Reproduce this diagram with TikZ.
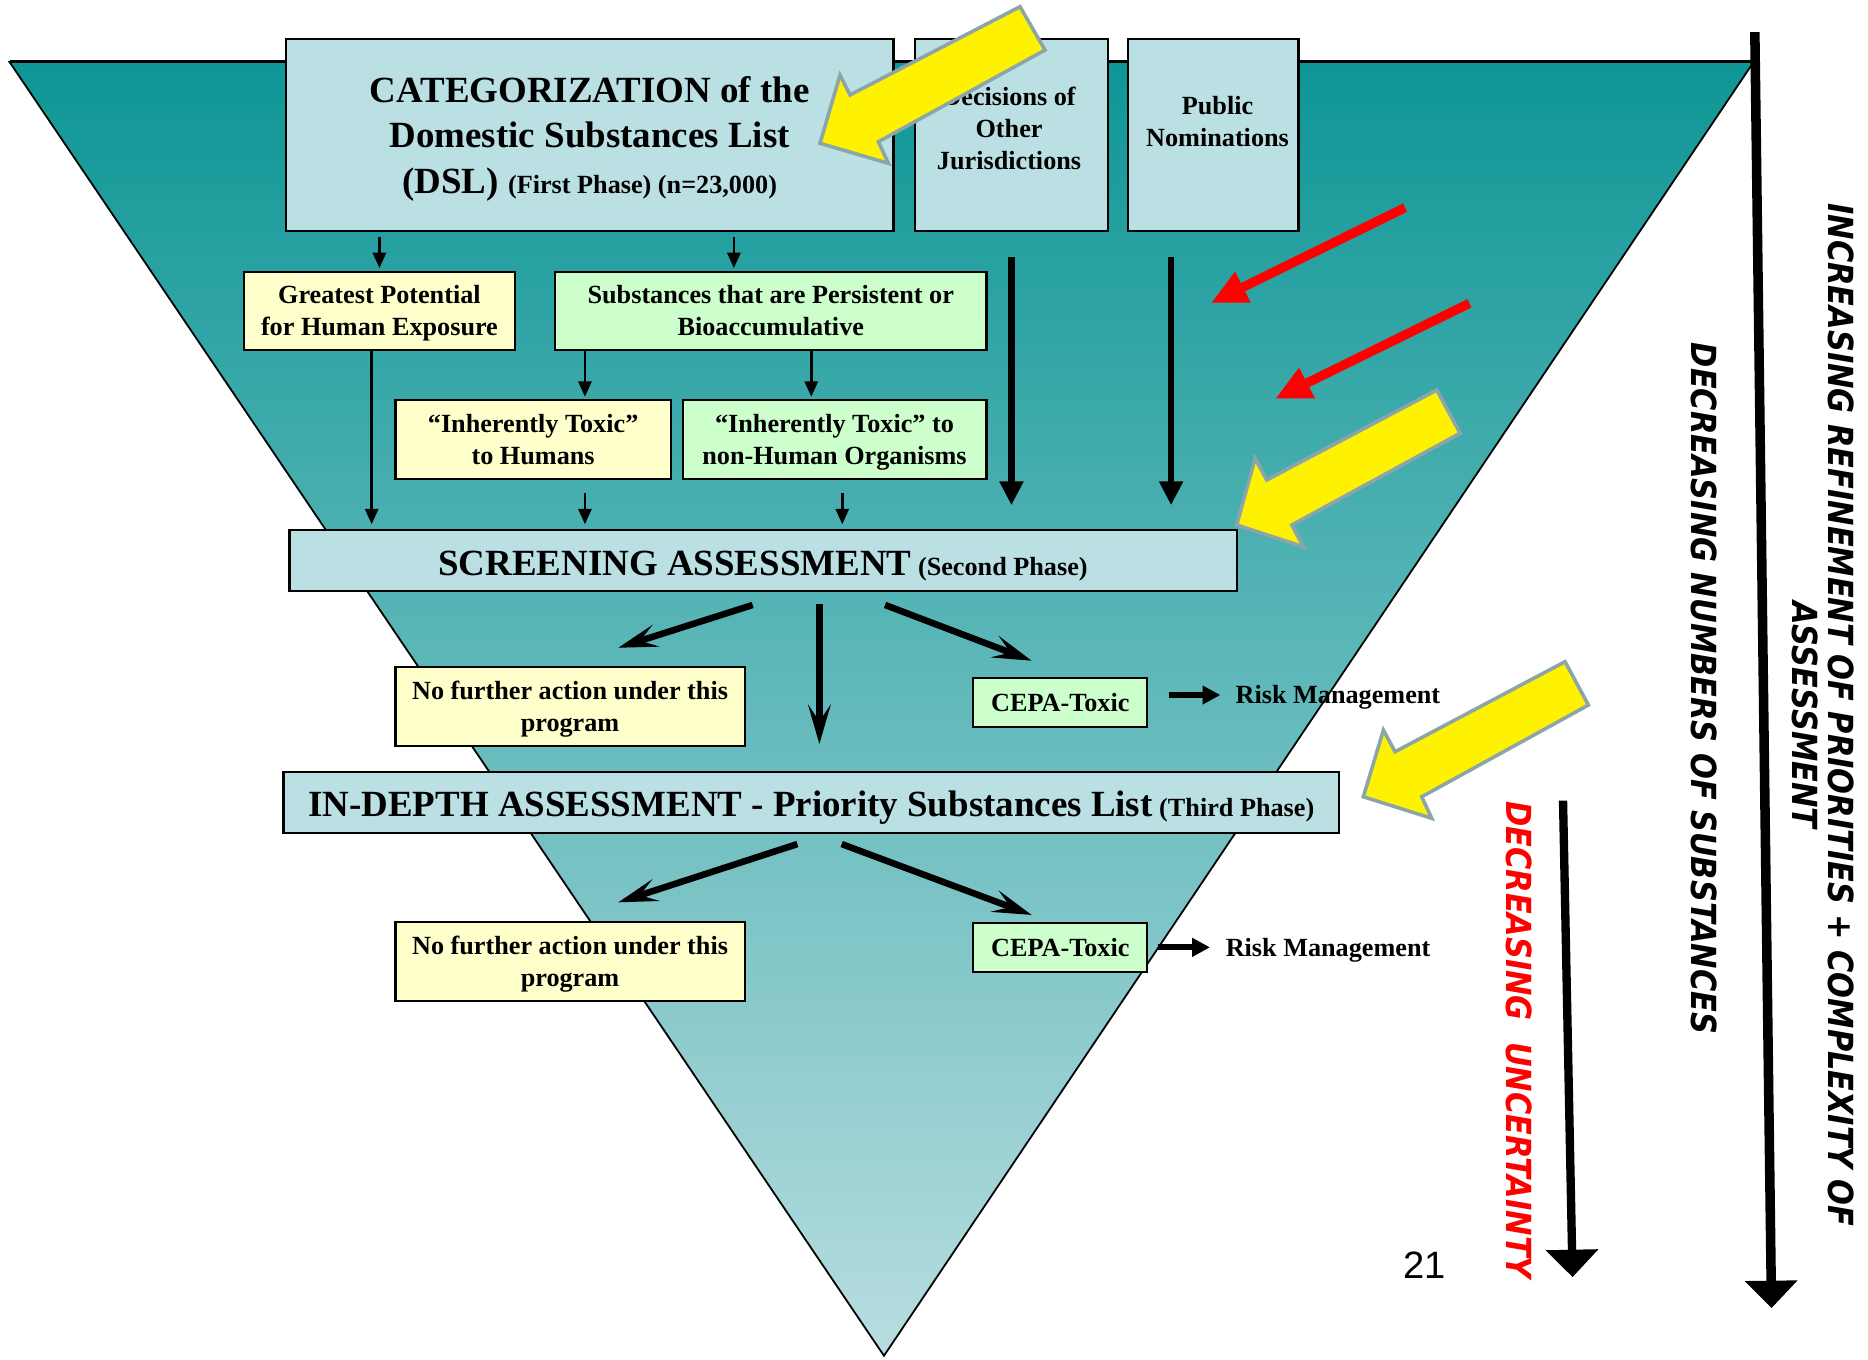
\documentclass[tikz,border=0pt]{standalone}
\usepackage{fontspec}
\setmainfont{Liberation Serif}
\newfontfamily\sidefont{DejaVu Sans}
\newfontfamily\pagefont{Liberation Sans}
\usetikzlibrary{arrows.meta}

\definecolor{tealtop}{RGB}{14,150,150}
\definecolor{tealbot}{RGB}{184,221,224}
\definecolor{boxblue}{RGB}{186,224,228}
\definecolor{boxyellow}{RGB}{255,255,204}
\definecolor{boxgreen}{RGB}{204,255,204}
\definecolor{arrowedge}{RGB}{140,165,168}

\newcommand\boxfont{\fontsize{22}{27}\selectfont\bfseries}
\newcommand\bigboxfont{\fontsize{31}{38}\selectfont\bfseries}
\newcommand\sidetextfont{\sidefont\fontsize{29}{30}\selectfont\bfseries\itshape}
% invisible struts that lower the text block inside its box
\newcommand\smalldrop{\rule{0pt}{19.5pt}}
\newcommand\bigdrop{\rule{0pt}{28pt}}
\newcommand\barsdrop{\rule{0pt}{30pt}}

\begin{document}
\begin{tikzpicture}[x=1pt,y=-1pt,
  box/.style={draw=black, line width=1.8pt, inner sep=0pt, align=center, font=\boxfont},
  bluebox/.style={box, fill=boxblue},
  yelbox/.style={box, fill=boxyellow},
  grnbox/.style={box, fill=boxgreen},
  thinarrow/.style={line width=2.2pt, -{Triangle[length=13pt,width=11pt]}},
  stemarrow/.style={line width=5.5pt, -{Triangle[length=20pt,width=19pt]}},
  flowarrow/.style={line width=5.5pt, -{Stealth[length=33pt,width=19pt,inset=14pt]}},
  riskarrow/.style={line width=5pt, -{Triangle[length=15pt,width=15pt]}},
  sidearrow/.style={-{Triangle[length=23pt,width=43pt]}},
  blockarrow/.style={fill=yellow, draw=arrowedge, line width=3pt, line join=miter},
  sidetext/.style={font=\sidetextfont, align=center, inner sep=0pt, rotate=-90, xscale=0.88},
  plaintext/.style={font=\boxfont, inner sep=0pt, align=center},
]
\useasboundingbox (0,0) rectangle (1568,1141);

% funnel
\shadedraw[top color=tealtop, bottom color=tealbot, draw=black, line width=1.5pt]
  (8,52) -- (1472,52) -- (742,1138) -- cycle;
\draw[line width=2.5pt] (8,52) -- (1472,52);

% side arrows
\coordinate (bigTop) at (1473,27);
\coordinate (bigTip) at (1487,1098);
\draw[sidearrow, line width=8pt] (bigTop) -- (bigTip);
\coordinate (smallTop) at (1312,672);
\coordinate (smallTip) at (1320,1072);
\draw[sidearrow, line width=7pt] (smallTop) -- (smallTip);

% first phase
\node[bluebox, font=\bigboxfont, minimum width=510pt, minimum height=161pt] (cat) at (495,113.5)
  {\bigdrop CATEGORIZATION of the\\Domestic Substances List\\(DSL) {\boxfont (First Phase) (n=23,000)}};
\node[bluebox, minimum width=162pt, minimum height=161pt] (dec) at (849,113.5) {};
\node[plaintext] (dectext) at (847,108) {Decisions of\\Other\\Jurisdictions};
\node[bluebox, minimum width=143pt, minimum height=161pt] (pub) at (1018.5,113.5) {};
\node[plaintext] (pubtext) at (1022,102) {Public\\Nominations};

\node[yelbox, minimum width=227pt, minimum height=66pt] (great) at (318.5,261)
  {\smalldrop Greatest Potential\\for Human Exposure};
\node[grnbox, minimum width=362pt, minimum height=66pt] (pers) at (647,261)
  {Substances that are Persistent or\\Bioaccumulative};
\node[yelbox, minimum width=231pt, minimum height=66pt] (ith) at (447.5,369)
  {``Inherently Toxic''\\to Humans};
\node[grnbox, minimum width=255pt, minimum height=66pt] (itn) at (700.5,369)
  {\smalldrop ``Inherently Toxic'' to\\non-Human Organisms};

% second phase
\node[bluebox, minimum width=795pt, minimum height=51pt] (scr) at (640.5,470.5)
  {\barsdrop{\bigboxfont SCREENING ASSESSMENT} (Second Phase)};
\node[yelbox, minimum width=293pt, minimum height=66pt] (nfa1) at (478.5,593)
  {\smalldrop No further action under this\\program};
\node[grnbox, minimum width=146pt, minimum height=41pt] (cepa1) at (890,589.5) {CEPA-Toxic};
\node[plaintext, anchor=west] (risk1) at (1037,585) {Risk Management};

% third phase
\node[bluebox, minimum width=886pt, minimum height=51pt] (ind) at (681,673.5)
  {\barsdrop{\bigboxfont IN-DEPTH ASSESSMENT - Priority Substances List} (Third Phase)};
\node[yelbox, minimum width=293pt, minimum height=66pt] (nfa2) at (478.5,807)
  {\smalldrop No further action under this\\program};
\node[grnbox, minimum width=146pt, minimum height=41pt] (cepa2) at (890,795.5) {CEPA-Toxic};
\node[plaintext, anchor=west] (risk2) at (1028.7,797.5) {Risk Management};

% categorization links
\draw[thinarrow, shorten <=4pt, shorten >=2pt] (great.north |- cat.south) -- (great.north);
\draw[thinarrow, shorten <=4pt, shorten >=2pt] ([xshift=-31pt]pers.north |- cat.south) -- ([xshift=-31pt]pers.north);
\draw[thinarrow, shorten >=4pt] ([xshift=-6.5pt]great.south) -- ([xshift=-6.5pt]great.south |- scr.north);
\draw[thinarrow, shorten >=2pt] ([xshift=43.5pt]ith.north |- pers.south) -- ([xshift=43.5pt]ith.north);
\draw[thinarrow, shorten >=2pt] ([xshift=-19.5pt]itn.north |- pers.south) -- ([xshift=-19.5pt]itn.north);
\draw[thinarrow, shorten <=11pt, shorten >=4pt] ([xshift=43.5pt]ith.south) -- ([xshift=43.5pt]ith.south |- scr.north);
\draw[thinarrow, shorten <=11pt, shorten >=4pt] ([xshift=6.5pt]itn.south) -- ([xshift=6.5pt]itn.south |- scr.north);
\draw[stemarrow, shorten <=21pt, shorten >=20pt] (dec.south) -- (dec.south |- scr.north);
\draw[stemarrow, shorten <=21pt, shorten >=20pt] ([xshift=-35.5pt]pub.south) -- ([xshift=-35.5pt]pub.south |- scr.north);

% screening outcomes
\coordinate (sL) at (631.8,507.8);  \coordinate (sLend) at (519,543.7);
\coordinate (sD) at (687.8,507);    \coordinate (sDend) at (687.8,624.5);
\coordinate (sR) at (742.9,507.8);  \coordinate (sRend) at (866,554.6);
\draw[flowarrow] (sL) -- (sLend);
\draw[flowarrow] (sD) -- (sDend);
\draw[flowarrow] (sR) -- (sRend);
\coordinate (r1) at (981,583.4);
\draw[riskarrow, shorten >=12.6pt] (r1) -- (r1 -| risk1.west);

% in-depth outcomes
\coordinate (iL) at (669.3,708.5);  \coordinate (iLend) at (519,757.4);
\coordinate (iR) at (706.5,708.5);  \coordinate (iRend) at (866,768);
\draw[flowarrow] (iL) -- (iLend);
\draw[flowarrow] (iR) -- (iRend);
\coordinate (r2) at (972,795.2);
\draw[riskarrow, shorten >=13pt] (r2) -- (r2 -| risk2.west);

% yellow block arrows
\filldraw[blockarrow] (856.2,5.6) -- (713.5,79.7) -- (705.1,63) -- (688.3,120.3)
  -- (745.7,137.1) -- (737.3,119) -- (877.2,42) -- cycle;
\filldraw[blockarrow] (1206,327.4) -- (1063.3,402.9) -- (1053.5,384.7) -- (1038.1,440.7)
  -- (1094,458.9) -- (1084.3,440.7) -- (1225.6,363.7) -- cycle;
\filldraw[blockarrow] (1313.7,555.4) -- (1171,631) -- (1161.2,612.8) -- (1144.4,668.8)
  -- (1201.8,686.9) -- (1193.4,668.8) -- (1333.3,591.8) -- cycle;

% red arrows
\coordinate (ra1) at (1179.4,174.3); \coordinate (ra1m) at (1043.3,241.05);
\draw[red, line width=7.8pt] (ra1) -- (ra1m);
\fill[red] (1017.1,254.1) -- (1036.7,228) -- (1049.9,254.1) -- cycle;
\coordinate (ra2) at (1233.4,254.6); \coordinate (ra2m) at (1097.1,321.5);
\draw[red, line width=7.8pt] (ra2) -- (ra2m);
\fill[red] (1071.1,334.4) -- (1090.4,308.6) -- (1103.8,334.4) -- cycle;

% side captions
\node[sidetext] (refine) at (1530,600)
  {INCREASING REFINEMENT OF PRIORITIES + COMPLEXITY OF\\ASSESSMENT};
\node[sidetext] (numbers) at (1430,578) {DECREASING NUMBERS OF SUBSTANCES};
\node[sidetext, text=red] (uncert) at (1275,873) {DECREASING~~UNCERTAINTY};

\node[font=\pagefont\fontsize{32}{32}\selectfont, inner sep=0pt] (pagenum) at (1196,1062) {21};
\end{tikzpicture}
\end{document}
